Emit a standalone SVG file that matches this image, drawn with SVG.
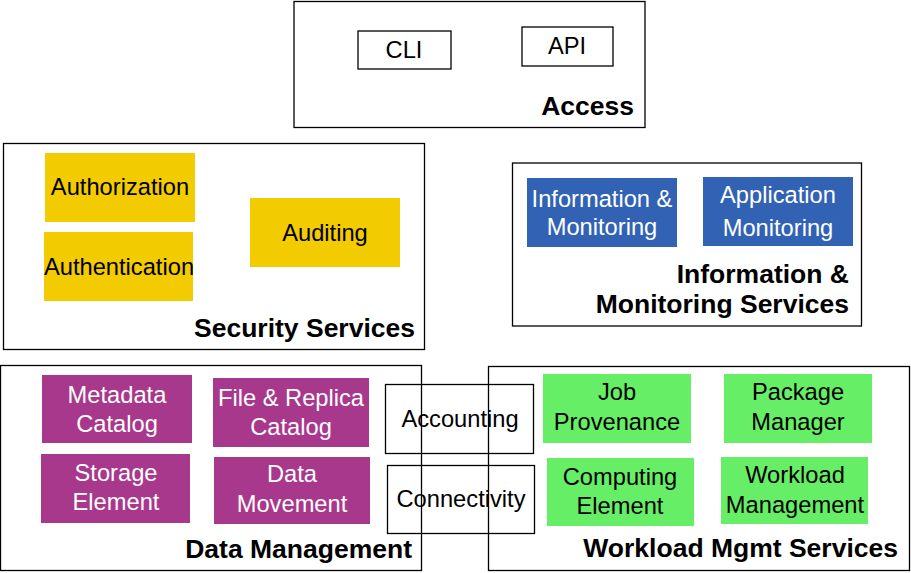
<svg xmlns="http://www.w3.org/2000/svg" width="911" height="573" viewBox="0 0 911 573">
<style>
.c{fill:none;stroke:#000;stroke-width:1.3}
.t{font-family:"Liberation Sans",Arial,sans-serif;font-size:23.7px;fill:#000;text-anchor:middle}
.tw{font-family:"Liberation Sans",Arial,sans-serif;font-size:23.7px;fill:#fff;text-anchor:middle}
.h{font-family:"Liberation Sans",Arial,sans-serif;font-size:26.5px;font-weight:bold;fill:#000;text-anchor:end}
.y{fill:#f2cc00}
.b{fill:#3262b4}
.p{fill:#a8388c}
.g{fill:#66ee66}
</style>
<rect width="911" height="573" fill="#fff"/>
<g id="access">
<rect class="c" x="294" y="1.5" width="351" height="126"/>
<text class="h" x="634" y="115">Access</text>
</g>
<g id="cli"><rect class="c" x="358" y="31" width="93" height="38"/><text class="t" x="404" y="58">CLI</text></g>
<g id="api"><rect class="c" x="522" y="27" width="91" height="39"/><text class="t" x="567" y="54">API</text></g>

<g id="security">
<rect class="c" x="3.5" y="143.5" width="421" height="206"/>
<text class="h" x="415" y="337">Security Services</text>
</g>
<g id="authorization"><rect class="y" x="45" y="153" width="150" height="69"/><text class="t" x="120" y="195">Authorization</text></g>
<g id="authentication"><rect class="y" x="44" y="232" width="149" height="69"/><text class="t" x="119" y="275">Authentication</text></g>
<g id="auditing"><rect class="y" x="250" y="198" width="150" height="69"/><text class="t" x="325" y="241">Auditing</text></g>

<g id="infomon">
<rect class="c" x="512.5" y="163" width="349" height="163"/>
<text class="h" x="849" y="283">Information &amp;</text>
<text class="h" x="849" y="313">Monitoring Services</text>
</g>
<g id="information-monitoring"><rect class="b" x="527" y="178" width="150" height="69"/><text class="tw" x="602" y="207">Information &amp;</text><text class="tw" x="602" y="235">Monitoring</text></g>
<g id="application-monitoring"><rect class="b" x="703" y="177" width="150" height="69"/><text class="tw" x="778" y="203">Application</text><text class="tw" x="778" y="236">Monitoring</text></g>

<g id="datamgmt">
<rect class="c" x="0.5" y="365.5" width="421" height="205"/>
<text class="h" x="412" y="558">Data Management</text>
</g>
<g id="metadata-catalog"><rect class="p" x="42" y="375" width="150" height="68"/><text class="tw" x="117" y="403">Metadata</text><text class="tw" x="117" y="432">Catalog</text></g>
<g id="file-replica-catalog"><rect class="p" x="213" y="378" width="156" height="69"/><text class="tw" x="291" y="406">File &amp; Replica</text><text class="tw" x="291" y="435">Catalog</text></g>
<g id="storage-element"><rect class="p" x="41" y="454" width="149" height="69"/><text class="tw" x="116" y="481">Storage</text><text class="tw" x="116" y="510">Element</text></g>
<g id="data-movement"><rect class="p" x="214" y="457" width="156" height="67"/><text class="tw" x="292" y="482">Data</text><text class="tw" x="292" y="512">Movement</text></g>

<g id="workload">
<rect class="c" x="488.5" y="366.5" width="421" height="204"/>
<text class="h" x="898" y="557">Workload Mgmt Services</text>
</g>
<g id="job-provenance"><rect class="g" x="543" y="374" width="148" height="69"/><text class="t" x="617" y="400">Job</text><text class="t" x="617" y="430">Provenance</text></g>
<g id="package-manager"><rect class="g" x="724" y="374" width="148" height="69"/><text class="t" x="798" y="400">Package</text><text class="t" x="798" y="430">Manager</text></g>
<g id="computing-element"><rect class="g" x="547" y="458" width="147" height="68"/><text class="t" x="620" y="485">Computing</text><text class="t" x="620" y="514">Element</text></g>
<g id="workload-management"><rect class="g" x="721" y="457" width="147" height="67"/><text class="t" x="795" y="483">Workload</text><text class="t" x="795" y="513">Management</text></g>

<g id="accounting"><rect class="c" x="385.5" y="384.5" width="148" height="69"/><text class="t" x="460" y="427">Accounting</text></g>
<g id="connectivity"><rect class="c" x="387.5" y="465.5" width="147" height="68"/><text class="t" x="461" y="507">Connectivity</text></g>
<g id="connectors"></g>
</svg>
